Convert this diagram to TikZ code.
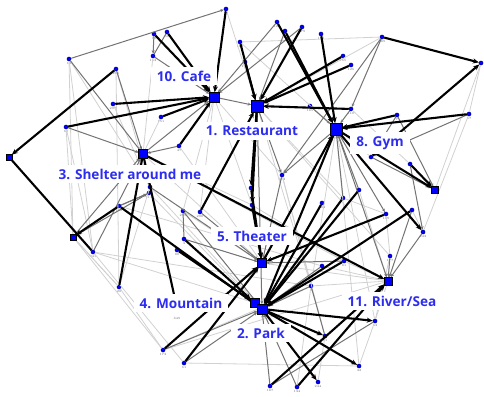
\documentclass[tikz,border=0pt]{standalone}
\usepackage{fontspec}
\newfontfamily\labfont{Open Sans}
\usetikzlibrary{arrows.meta}
\definecolor{hubblue}{RGB}{0,0,255}
\definecolor{txtblue}{RGB}{45,45,240}
\tikzset{
  dot/.style={circle, fill=hubblue, draw=blue!40!black, line width=0.3pt, inner sep=0pt, minimum size=4.2pt},
  hub/.style={rectangle, fill=hubblue, draw=black, line width=0.6pt, inner sep=0pt, minimum size=#1},
  lab/.style={font=\fontsize{3.2}{3.5}\selectfont, text=black!60, inner sep=0.6pt},
  hublabel/.style={fill=white, text=txtblue, font=\labfont\bfseries\fontsize{13.6}{16}\selectfont, inner xsep=6pt, inner ysep=4pt},
  strong/.style={draw=black, line width=2.1pt, -{Stealth[length=6pt,width=5pt]}},
  strongplain/.style={draw=black, line width=2.1pt},
  medium/.style={draw=black!55, line width=1pt, -{Stealth[length=3.5pt,width=3pt]}},
  mediumplain/.style={draw=black!55, line width=1pt},
  light/.style={draw=black!18, line width=0.8pt},
}
\begin{document}
\begin{tikzpicture}[x=1pt,y=-1pt]
\useasboundingbox (0,0) rectangle (484,396);
% category vertices
\node[hub=9pt]  (cafe)  at (214,97)  {};
\node[hub=11pt] (rest)  at (257,106) {};
\node[hub=11pt] (gym)   at (336,129) {};
\node[hub=8pt]  (shel)  at (143,154) {};
\node[hub=8pt]  (thea)  at (262,263) {};
\node[hub=8pt]  (mount) at (255,303) {};
\node[hub=9pt]  (park)  at (262,309) {};
\node[hub=7pt]  (river) at (388,281) {};
\node[hub=6pt]  (sq5)   at (435,190) {};
\node[hub=5pt]  (sq14)  at (9,157)   {};
\node[hub=5pt]  (sq8)   at (73,237)  {};
% respondent vertices
\node[dot,label={[lab]below:13}]  (t1)   at (226,9)   {};
\node[dot,label={[lab]below:76}]  (t2)   at (154,34)  {};
\node[dot,label={[lab]below:56}]  (t3)   at (167,32)  {};
\node[dot,label={[lab]below:153}] (t4)   at (153,56)  {};
\node[dot,label={[lab]below:189}] (t5)   at (240,42)  {};
\node[dot,label={[lab]below:170}] (r7)   at (245,62)  {};
\node[dot,label={[lab]below:12}]  (n12)  at (69,59)   {};
\node[dot,label={[lab]below:215}] (n215) at (116,69)  {};
\node[dot,label={[lab]below:207}] (n207) at (113,104) {};
\node[dot,label={[lab]below:60}]  (n60)  at (66,127)  {};
\node[dot,label={[lab]below:151}] (n151) at (161,117) {};
\node[dot,label={[lab]below:47}]  (n47)  at (179,146) {};
\node[dot,label={[lab]below:111}] (n111) at (149,193) {};
\node[dot,label={[lab]below:122}] (r1)   at (277,22)  {};
\node[dot,label={[lab]below:73}]  (r2)   at (285,31)  {};
\node[dot,label={[lab]below:179}] (r3)   at (302,27)  {};
\node[dot,label={[lab]below:198}] (r4)   at (321,34)  {};
\node[dot,label={[lab]below:165}] (r5)   at (343,56)  {};
\node[dot,label={[lab]below:126}] (r6)   at (351,65)  {};
\node[dot,label={[lab]below:289}] (n289) at (382,37)  {};
\node[dot]                        (nR)   at (481,63)  {};
\node[dot,label={[lab]below:57}]  (n57)  at (469,114) {};
\node[dot,label={[lab]below:7}]   (n7)   at (397,115) {};
\node[dot,label={[lab]below:110}] (n110) at (351,109) {};
\node[dot,label={[lab]below:185}] (n185) at (310,106) {};
\node[dot,label={[lab]below:312}] (n312) at (282,175) {};
\node[dot]                        (n251) at (251,188) {};
\node[dot]                        (n252) at (252,205) {};
\node[dot]                        (n150) at (150,187) {};
\node[dot,label={[lab]below:255}] (n183) at (183,211) {};
\node[dot,label={[lab]below:200}] (n200) at (200,212) {};
\node[dot,label={[lab]below:3}]   (n184) at (184,239) {};
\node[dot,label={[lab]below:80}]  (n177) at (177,250) {};
\node[dot,label={[lab]below:283}] (n322t) at (322,203) {};
\node[dot]                        (n343) at (343,198) {};
\node[dot]                        (n359) at (359,190) {};
\node[dot]                        (n371) at (371,157) {};
\node[dot]                        (n410) at (410,164) {};
\node[dot,label={[lab]below:179}] (n179) at (386,214) {};
\node[dot]                        (n412) at (412,210) {};
\node[dot,label={[lab]below:243}] (n243) at (423,232) {};
\node[dot,label={[lab]below:177}] (n177r) at (390,256) {};
\node[dot]                        (n322) at (322,266) {};
\node[dot,label={[lab]below:81}]  (n81)  at (344,261) {};
\node[dot,label={[lab]below:2}]   (n2)   at (311,286) {};
\node[dot,label={[lab]below:63}]  (n63)  at (375,321) {};
\node[dot,label={[lab]below:71}]  (n71)  at (325,336) {};
\node[dot,label={[lab]below:32}]  (n32)  at (359,366) {};
\node[dot,label={[lab]below:187}] (n187) at (270,386) {};
\node[dot,label={[lab]below:134}] (n134) at (297,387) {};
\node[dot,label={[lab]below:244}] (n244) at (318,382) {};
\node[dot,label={[lab]below:241}] (n241) at (93,252)  {};
\node[dot,label={[lab]below:188}] (n188) at (119,206) {};
\node[dot,label={[lab]below:28}]  (n28)  at (119,287) {};
\node[dot,label={[lab]below:173}] (n173) at (163,350) {};
\node[dot,label={[lab]below:61}]  (n61)  at (184,363) {};
\node[dot]                        (n349) at (177,308) {};
% faint links
\foreach \a/\b in {n12/n150, n12/sq8, n215/n150, n60/sq8, n241/mount, sq8/n173,
  n28/n173, n28/sq8, n241/n61, n289/rest, n289/t5, cafe/n312, shel/thea, shel/n252,
  nR/sq5, n63/river, n32/n63, n71/n187, n134/n2, n244/n71, n2/river, n322/river,
  n81/river, n179/n177r, n412/n243, n343/n179, t1/rest, t5/gym, n47/thea, n151/shel,
  n111/mount, n183/thea, n177/park, n173/river, n241/n2, n150/park, rest/n2, gym/n2,
  thea/river, n252/n81, n12/n241, n60/n241, n215/n28, cafe/n200, rest/n177r, gym/n63,
  n57/n243, nR/n57, n110/n410, n185/n371, n312/n2, shel/n81, n188/n322, sq8/n28,
  n207/n150, n61/n32, n173/n2, cafe/n252, t4/shel, n150/n28, gym/n32, n312/n71,
  n177r/n63, n359/river, rest/n343, cafe/n183}
  \draw[light] (\a) -- (\b);
% medium links
\foreach \a/\b in {n12/t1, n215/shel, n60/shel, n47/shel, shel/cafe, cafe/rest, t4/cafe,
  t2/t4, n185/gym, n289/n312, n7/sq5, gym/n312, rest/n312, n312/thea, gym/river,
  n410/n243, n177r/river, n412/river, n243/river, n81/thea, n322/park, n2/park,
  n173/park, n61/park, n187/park, n134/park, sq8/shel, sq8/n111, n183/park, n200/thea,
  n184/thea, gym/thea, rest/park, n110/gym, r2/rest, r1/cafe, r3/cafe, n359/gym,
  n343/gym, gym/n179, n241/shel, n188/n111, n150/thea, n322t/park, n7/n371, n289/n110,
  n371/sq5, n57/n371}
  \draw[medium] (\a) -- (\b);
\foreach \a/\b in {t4/t3, n12/shel, n111/n188, n184/n183, n2/n71, n63/n187}
  \draw[mediumplain] (\a) -- (\b);
% heavy links
\foreach \a/\b in {n289/nR, n7/gym, n57/gym, n371/nR, t1/cafe, t2/cafe, t3/cafe, n207/cafe,
  n60/cafe, n151/cafe, n47/cafe, n215/sq14, n188/sq8, n173/thea, n61/thea, n187/river,
  n134/river, park/n244, park/n32, park/n63, n251/thea, n252/thea, n200/rest, r1/gym,
  r2/gym, r3/rest, r4/gym, r5/rest, r6/rest, n110/rest, t5/rest, r7/rest, gym/sq5,
  n410/sq5, n179/thea, shel/river, n177/mount, n184/mount, n359/park, n343/park,
  n322t/park, n81/park, gym/n243, n412/park, rest/n251, rest/n252, gym/park, n188/park,
  park/n71, thea/gym}
  \draw[strong] (\a) -- (\b);
\foreach \a/\b in {sq14/n241, shel/n28, shel/n349}
  \draw[strongplain] (\a) -- (\b);
% category vertices on top of the links
\foreach \n in {cafe,rest,gym,shel,thea,mount,park,river,sq5,sq14,sq8}
  \draw[fill=hubblue, draw=black, line width=0.6pt] (\n.south west) rectangle (\n.north east);
% category captions
\node[hublabel] (Lcafe)  at (184,76)  {10. Cafe};
\node[hublabel] (Lrest)  at (252,131) {1. Restaurant};
\node[hublabel] (Lgym)   at (380,143) {8. Gym};
\node[hublabel] (Lshel)  at (130,174) {3. Shelter around me};
\node[hublabel] (Lthea)  at (252,236) {5. Theater};
\node[hublabel] (Lmount) at (181,303) {4. Mountain};
\node[hublabel] (Lpark)  at (261,333) {2. Park};
\node[hublabel] (Lriver) at (392,301) {11. River/Sea};
\node[lab] (L349) at (177,318) {349};
\end{tikzpicture}
\end{document}
